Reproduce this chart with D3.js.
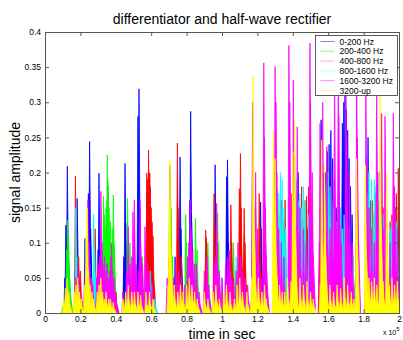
<!DOCTYPE html>
<html><head><meta charset="utf-8">
<script src="https://cdn.jsdelivr.net/npm/d3@7"></script>
<style>body{margin:0;background:#fff;} svg{display:block;font-family:"Liberation Sans",Arial,sans-serif;}</style>
</head><body><svg id="c" width="403" height="340"></svg>
<script>
// time in units of 1e5 samples, amplitude
const seriesNames = ["0-200 Hz","200-400 Hz","400-800 Hz","800-1600 Hz","1600-3200 Hz","3200-up"];
const seriesColors = ["#0000ff","#00ff00","#ff0000","#00ffff","#ff00ff","#ffff00"];
const legendColors = ["#8080ff","#80ff80","#ffb0b0","#b0ffff","#ff80ff","#ffff80"];
const xTicks = [0,0.2,0.4,0.6,0.8,1,1.2,1.4,1.6,1.8,2];
const yTicks = [0,0.05,0.1,0.15,0.2,0.25,0.3,0.35,0.4];

const blueSpikes = [[0.112,0.05],[0.118,0.125],[0.126,0.209],[0.131,0.10],[0.170,0.06],[0.182,0.163],[0.190,0.05],[0.226,0.106],[0.245,0.17],[0.252,0.244],[0.258,0.12],[0.300,0.09],[0.305,0.199],[0.31,0.09],[0.445,0.08],[0.452,0.213],[0.456,0.128],[0.47,0.07],[0.525,0.28],[0.531,0.319],[0.536,0.15],[0.60,0.08],
[0.735,0.08],[0.763,0.222],[0.768,0.12],[0.818,0.16],[0.823,0.287],[0.828,0.14],[0.961,0.211],[0.965,0.1],[1.026,0.194],[1.031,0.218],[1.036,0.1],[1.174,0.29],[1.18,0.15],[1.218,0.158],[1.222,0.12],[1.36,0.07],[1.41,0.223],[1.43,0.20],[1.48,0.12],
[1.56,0.275],[1.585,0.2],[1.595,0.23],[1.605,0.24],[1.615,0.26],[1.625,0.22],[1.635,0.19],[1.645,0.15],[1.68,0.27],[1.688,0.30],[1.695,0.313],[1.702,0.29],[1.71,0.26],[1.718,0.22],[1.726,0.18],[1.735,0.14],[1.825,0.25],[1.89,0.2],[1.93,0.1]];

const greenSpikes = [[0.10,0.01],[0.122,0.09],[0.128,0.132],[0.133,0.11],[0.14,0.05],[0.19,0.06],[0.24,0.08],[0.275,0.06],[0.33,0.166],[0.335,0.14],[0.34,0.12],[0.345,0.15],[0.348,0.16],[0.352,0.225],[0.355,0.19],[0.358,0.18],[0.362,0.15],[0.365,0.12],[0.37,0.13],[0.372,0.10],[0.38,0.12],[0.386,0.168],[0.39,0.1],[0.392,0.09],[0.466,0.163],[0.48,0.1],[0.55,0.08],[0.60,0.06],
[0.708,0.199],[0.712,0.15],[0.72,0.08],[0.795,0.14],[0.80,0.10],[0.85,0.135],[0.86,0.09],[0.92,0.1],[0.975,0.142],[0.98,0.1],[1.065,0.10],[1.125,0.108],[1.13,0.06],[1.30,0.03],[1.5,0.02]];

const redSpikes = [[0.172,0.195],[0.178,0.12],[0.19,0.08],[0.20,0.06],[0.283,0.12],[0.30,0.06],[0.40,0.03],[0.575,0.199],[0.578,0.19],[0.58,0.17],[0.585,0.232],[0.588,0.2],[0.592,0.199],[0.595,0.18],[0.60,0.15],[0.605,0.13],[0.61,0.11],
[0.705,0.21],[0.748,0.242],[0.752,0.15],[0.77,0.08],[0.83,0.05],[0.908,0.118],[0.912,0.107],[0.955,0.17],[0.96,0.12],[1.05,0.154],[1.055,0.1],[1.098,0.177],[1.104,0.227],[1.108,0.15],[1.125,0.149],[1.13,0.1],[1.21,0.17],[1.215,0.12],
[1.30,0.12],[1.32,0.14],[1.33,0.16],[1.337,0.16],[1.345,0.1],[1.35,0.13],[1.356,0.161],[1.395,0.17],[1.40,0.14],[1.42,0.12],[1.44,0.15],[1.45,0.18],[1.46,0.13],[1.47,0.16],[1.478,0.166],[1.49,0.18],[1.495,0.1],[1.505,0.12],[1.55,0.1],[1.57,0.11],[1.59,0.13],[1.60,0.12],[1.61,0.14],[1.62,0.13],[1.63,0.12],[1.64,0.12],[1.65,0.10],[1.66,0.11],[1.67,0.12],[1.676,0.096],[1.69,0.12],[1.70,0.1],[1.72,0.09],[1.74,0.08],[1.76,0.12],
[1.82,0.13],[1.83,0.15],[1.84,0.16],[1.85,0.16],[1.86,0.14],[1.87,0.17],[1.88,0.15],[1.90,0.13],[1.91,0.15],[1.95,0.13],[1.96,0.14],[1.97,0.16],[1.98,0.15],[1.985,0.17],[1.996,0.206]];

const cyanSpikes = [[0.174,0.149],[0.18,0.08],[0.275,0.14],[0.28,0.09],[0.39,0.04],[0.595,0.06],[0.60,0.04],[0.62,0.02],[1.0,0.05],[1.08,0.08],[1.2,0.1],
[1.30,0.199],[1.31,0.18],[1.32,0.17],[1.33,0.2],[1.34,0.19],[1.35,0.15],[1.36,0.12],[1.39,0.14],[1.41,0.17],[1.42,0.19],[1.43,0.16],[1.44,0.17],[1.45,0.15],[1.46,0.18],[1.47,0.16],[1.49,0.14],[1.5,0.12],[1.56,0.19],[1.57,0.17],[1.58,0.18],[1.59,0.19],[1.6,0.2],[1.61,0.18],[1.62,0.16],[1.63,0.15],[1.65,0.13],[1.66,0.14],[1.67,0.15],[1.68,0.12],[1.69,0.14],[1.70,0.13],[1.71,0.12],[1.72,0.1],[1.74,0.08],
[1.82,0.17],[1.83,0.2],[1.845,0.19],[1.86,0.19],[1.87,0.18],[1.88,0.2],[1.89,0.17],[1.9,0.16],[1.91,0.14],[1.95,0.12],[1.96,0.13],[1.975,0.15],[1.985,0.13],[1.99,0.12]];

const magentaSpikes = [[0.12,0.04],[0.135,0.03],[0.175,0.05],[0.185,0.07],[0.195,0.04],[0.228,0.06],[0.236,0.09],[0.242,0.161],[0.248,0.1],[0.253,0.07],[0.262,0.05],[0.27,0.04],[0.292,0.05],[0.30,0.07],[0.31,0.08],[0.316,0.173],[0.322,0.10],[0.328,0.07],[0.336,0.08],[0.344,0.06],[0.35,0.07],[0.358,0.05],[0.366,0.06],[0.372,0.08],[0.376,0.099],[0.382,0.06],[0.39,0.05],[0.398,0.03],
[0.44,0.03],[0.46,0.06],[0.47,0.123],[0.48,0.07],[0.49,0.08],[0.497,0.144],[0.505,0.161],[0.515,0.07],[0.528,0.06],[0.537,0.161],[0.545,0.08],[0.55,0.07],[0.565,0.123],[0.58,0.07],[0.59,0.06],[0.605,0.04],
[0.69,0.05],[0.70,0.08],[0.725,0.05],[0.74,0.07],[0.755,0.06],[0.77,0.05],[0.79,0.04],[0.805,0.08],[0.812,0.1],[0.82,0.161],[0.825,0.12],[0.835,0.09],[0.845,0.07],[0.855,0.07],[0.87,0.03],[0.9,0.06],[0.915,0.08],[0.925,0.04],[0.955,0.07],[0.965,0.08],[0.97,0.156],[0.985,0.06],[1.0,0.05],[1.02,0.07],[1.03,0.08],[1.04,0.09],[1.05,0.06],[1.065,0.05],[1.08,0.06],[1.09,0.1],[1.105,0.08],[1.115,0.06],[1.13,0.05],[1.145,0.04],
[1.17,0.08],[1.173,0.30],[1.18,0.1],[1.19,0.2],[1.20,0.12],[1.21,0.07],[1.22,0.05],[1.236,0.356],[1.24,0.25],[1.245,0.15],[1.25,0.08],[1.30,0.351],[1.305,0.3],[1.31,0.2],[1.32,0.12],[1.335,0.1],[1.35,0.08],
[1.378,0.381],[1.383,0.3],[1.39,0.15],[1.403,0.332],[1.415,0.12],[1.425,0.265],[1.44,0.15],[1.46,0.12],[1.475,0.1],[1.497,0.384],[1.50,0.3],[1.51,0.2],[1.554,0.27],[1.562,0.15],[1.569,0.3],[1.575,0.2],[1.585,0.12],[1.592,0.237],[1.61,0.12],[1.62,0.2],[1.636,0.341],[1.645,0.12],[1.657,0.377],[1.66,0.28],[1.675,0.1],[1.70,0.35],[1.705,0.25],[1.72,0.2],[1.735,0.1],[1.761,0.35],[1.765,0.25],
[1.813,0.322],[1.818,0.22],[1.83,0.15],[1.845,0.12],[1.86,0.1],[1.874,0.322],[1.88,0.2],[1.902,0.284],[1.91,0.12],[1.921,0.28],[1.93,0.15],[1.95,0.1],[1.968,0.284],[1.975,0.18],[1.99,0.12]];

const yellowSpikes = [[0.105,0.02],[0.115,0.035],[0.125,0.05],[0.135,0.03],[0.165,0.03],[0.175,0.04],[0.185,0.05],[0.195,0.03],[0.205,0.02],[0.225,0.04],[0.232,0.11],[0.238,0.15],[0.245,0.06],[0.255,0.04],[0.265,0.03],[0.275,0.02],[0.295,0.03],[0.305,0.04],[0.315,0.05],[0.325,0.03],[0.335,0.02],[0.345,0.03],[0.36,0.02],[0.37,0.02],[0.385,0.015],
[0.44,0.02],[0.455,0.03],[0.47,0.04],[0.49,0.03],[0.505,0.03],[0.525,0.03],[0.54,0.025],[0.57,0.03],[0.59,0.03],[0.61,0.02],
[0.695,0.04],[0.702,0.16],[0.706,0.218],[0.715,0.06],[0.73,0.04],[0.75,0.03],[0.765,0.04],[0.78,0.03],[0.80,0.04],[0.815,0.05],[0.83,0.04],[0.845,0.03],[0.86,0.02],[0.9,0.03],[0.92,0.02],[0.95,0.03],[0.965,0.04],[0.985,0.02],[1.01,0.03],[1.025,0.04],[1.045,0.03],[1.07,0.02],[1.085,0.04],[1.1,0.05],[1.115,0.03],[1.14,0.03],
[1.168,0.05],[1.176,0.339],[1.19,0.04],[1.205,0.05],[1.225,0.03],[1.24,0.04],[1.25,0.02],[1.29,0.26],[1.295,0.04],[1.30,0.22],[1.31,0.05],[1.325,0.04],[1.34,0.03],[1.355,0.03],[1.37,0.05],[1.39,0.045],[1.40,0.23],[1.41,0.275],[1.42,0.04],[1.44,0.05],[1.46,0.04],[1.48,0.045],[1.5,0.03],[1.515,0.02],
[1.555,0.04],[1.563,0.246],[1.575,0.05],[1.58,0.21],[1.59,0.045],[1.61,0.04],[1.63,0.03],[1.65,0.04],[1.67,0.035],[1.69,0.05],[1.71,0.04],[1.73,0.03],[1.745,0.02],[1.76,0.22],[1.81,0.21],[1.815,0.04],[1.83,0.05],[1.845,0.045],[1.86,0.05],[1.875,0.04],[1.893,0.327],[1.91,0.045],[1.93,0.2],[1.945,0.04],[1.96,0.05],[1.975,0.04],[1.99,0.045]];

const allSpikes = [blueSpikes, greenSpikes, redSpikes, cyanSpikes, magentaSpikes, yellowSpikes];

const svg = d3.select("#c");
const L = 45, R = 399, T = 32, B = 313;
const x = d3.scaleLinear().domain([0, 2]).range([L, R]);
const y = d3.scaleLinear().domain([0, 0.4]).range([B, T]);

svg.append("clipPath").attr("id","pc").append("rect")
  .attr("x", L).attr("y", T).attr("width", R - L).attr("height", B - T);

const line = d3.line().x(d => x(d[0])).y(d => y(d[1]));
const plot = svg.append("g").attr("clip-path","url(#pc)");
allSpikes.forEach((sp, i) => {
  plot.append("g").selectAll("path").data(sp).join("path")
    .attr("d", d => line([[d[0]-0.006,0],[d[0],d[1]],[d[0]+0.005,d[1]*0.45],[d[0]+0.018,0]]))
    .attr("fill", seriesColors[i])
    .attr("stroke", seriesColors[i])
    .attr("stroke-width", 0.8);
});

// axes box
const axisColor = "#555";
const xb = svg.append("g").attr("transform", `translate(0,${B})`)
  .call(d3.axisBottom(x).tickValues(xTicks).tickSize(-4).tickPadding(3).tickFormat(d3.format("~g")));
const xt = svg.append("g").attr("transform", `translate(0,${T})`)
  .call(d3.axisTop(x).tickValues(xTicks).tickSize(-4).tickFormat(""));
const yl = svg.append("g").attr("transform", `translate(${L},0)`)
  .call(d3.axisLeft(y).tickValues(yTicks).tickSize(-4).tickPadding(4).tickFormat(d3.format("~g")));
const yr = svg.append("g").attr("transform", `translate(${R},0)`)
  .call(d3.axisRight(y).tickValues(yTicks).tickSize(-4).tickFormat(""));
[xb, xt, yl, yr].forEach(g => {
  g.selectAll("path.domain").attr("stroke", axisColor);
  g.selectAll(".tick line").attr("stroke", axisColor);
  g.selectAll(".tick text").attr("font-size", 8.5).attr("fill", "#000").attr("font-family", "Liberation Sans, Arial, sans-serif");
});
svg.selectAll(".tick line").filter(function(d){return d===0||d===2||d===0.4;}).attr("opacity",0);

// title & labels
svg.append("text").attr("x", (L+R)/2).attr("y", 24).attr("text-anchor","middle")
  .attr("font-size", 14).text("differentiator and half-wave rectifier");
svg.append("text").attr("x", (L+R)/2).attr("y", 338.5).attr("text-anchor","middle")
  .attr("font-size", 14).text("time in sec");
svg.append("text").attr("transform", `translate(20,${(T+B)/2}) rotate(-90)`).attr("text-anchor","middle")
  .attr("font-size", 14).text("signal amplitude");
const ex = svg.append("text").attr("x", 383).attr("y", 335).attr("font-size", 7);
ex.append("tspan").text("x 10");
ex.append("tspan").attr("dy", -4).attr("font-size", 6).text("5");

// legend
const lg = svg.append("g").attr("transform","translate(315.5,35.5)");
lg.append("rect").attr("width", 82).attr("height", 60).attr("fill","#fff").attr("stroke", "#333").attr("stroke-width", 0.8);
seriesNames.forEach((n, i) => {
  const yy = 6 + i * 9.8;
  lg.append("line").attr("x1", 5).attr("x2", 19).attr("y1", yy).attr("y2", yy)
    .attr("stroke", legendColors[i]).attr("stroke-width", 1);
  lg.append("text").attr("x", 24).attr("y", yy + 3).attr("font-size", 8.5).text(n);
});
</script></body></html>
